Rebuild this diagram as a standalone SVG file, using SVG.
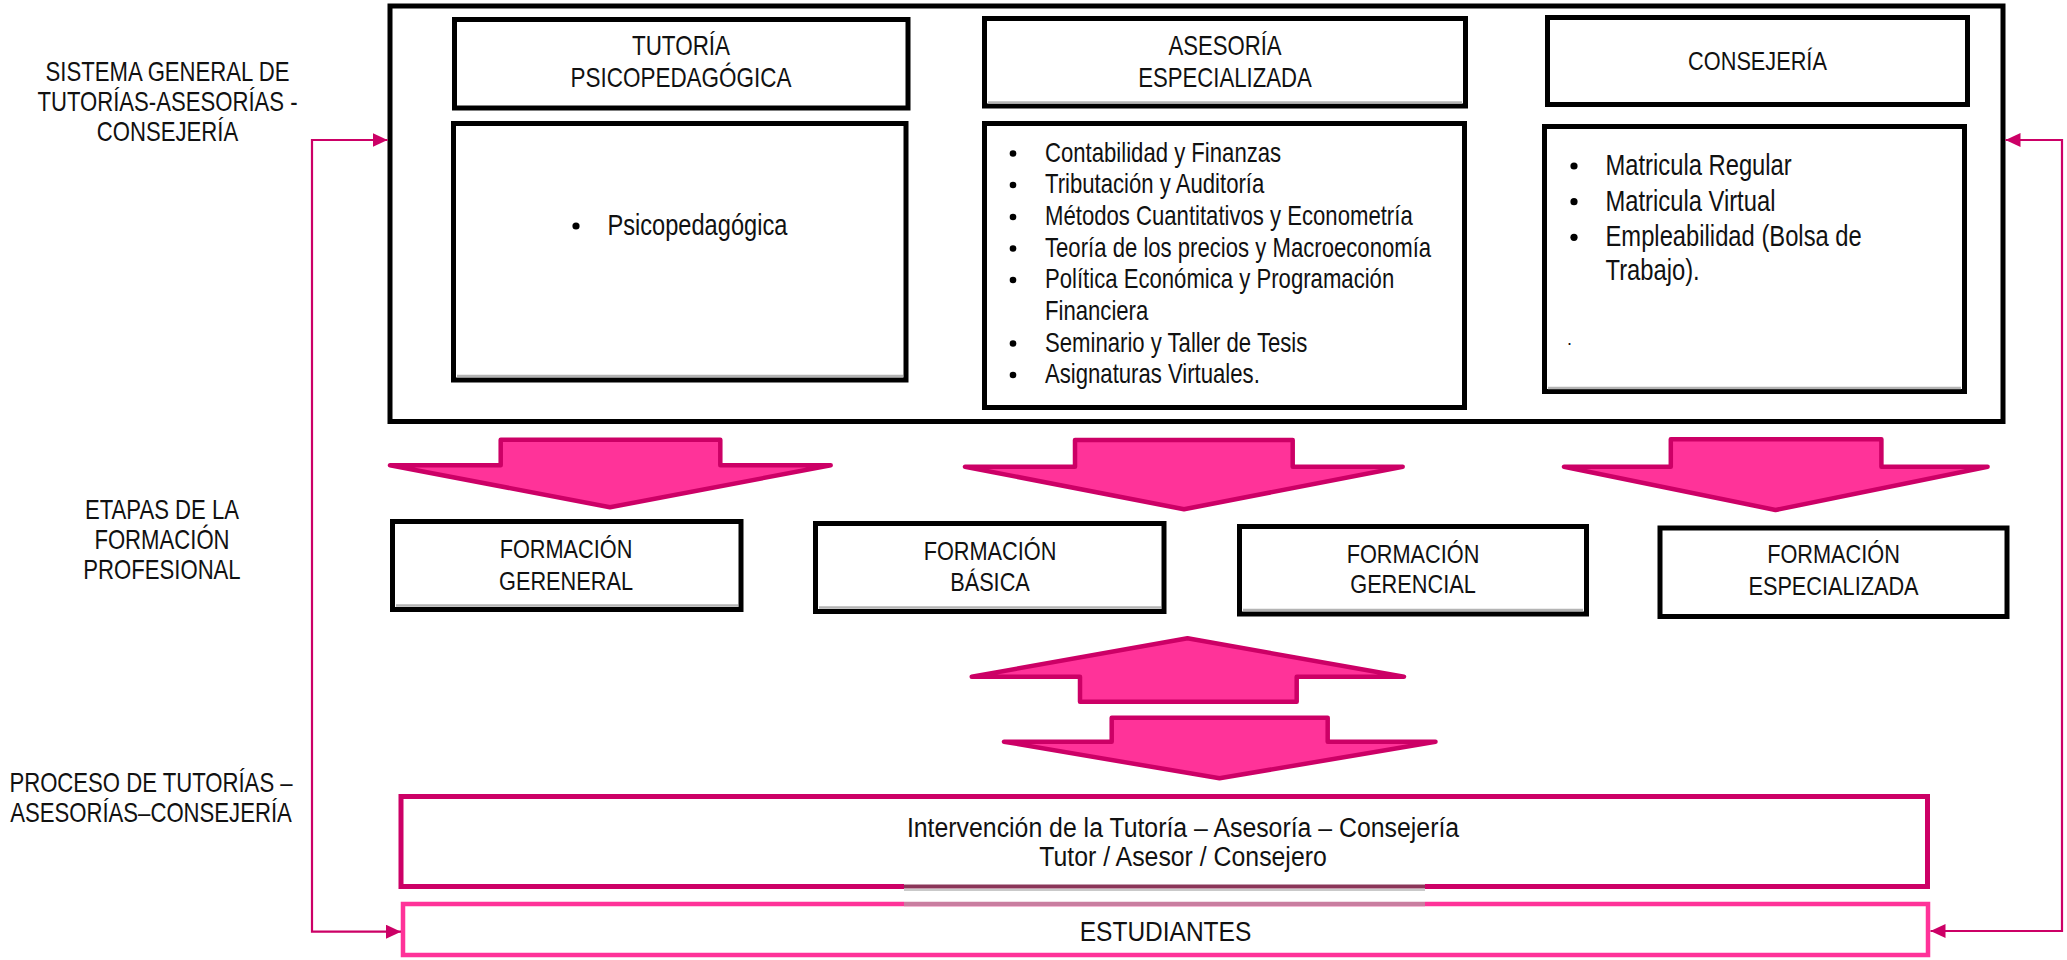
<svg xmlns="http://www.w3.org/2000/svg" width="2067" height="960" viewBox="0 0 2067 960">
<defs>
<style>
text{font-family:'Liberation Sans',Arial,sans-serif;fill:#111;}
.lbl{font-size:27px;text-anchor:middle;}
.hdr{font-size:27px;text-anchor:middle;}
.frm{font-size:26.5px;text-anchor:middle;}
.lst{font-size:27px;}
.lst2{font-size:29px;}
.box{fill:#fff;stroke:#000;stroke-width:5;}
.shade{stroke:#b4b4b4;stroke-width:2.5;fill:none;}
.arr{fill:#FF3399;stroke:#CC0066;stroke-width:4.5;stroke-linejoin:round;}
.pbox{fill:#fff;stroke:#CC0066;stroke-width:5;}
.sbox{fill:#fff;stroke:#FF3399;stroke-width:4.5;}
.conn{fill:none;stroke:#CC0066;stroke-width:2.2;}
.dot{fill:#000;}
</style>
<marker id="ah" viewBox="0 0 15 14" refX="15" refY="7" markerWidth="15" markerHeight="14" markerUnits="userSpaceOnUse" orient="auto-start-reverse">
<path d="M0,0 L15,7 L0,14 z" fill="#CC0066"/>
</marker>
</defs>
<rect width="2067" height="960" fill="#fff"/>

<g id="labels">
<text class="lbl" transform="translate(167.5,80.7) scale(0.82,1)">SISTEMA GENERAL DE</text>
<text class="lbl" transform="translate(167.5,110.7) scale(0.82,1)">TUTORÍAS-ASESORÍAS -</text>
<text class="lbl" transform="translate(167.5,140.7) scale(0.82,1)">CONSEJERÍA</text>
<text class="lbl" transform="translate(162,519.3) scale(0.82,1)">ETAPAS DE LA</text>
<text class="lbl" transform="translate(162,549.3) scale(0.82,1)">FORMACIÓN</text>
<text class="lbl" transform="translate(162,578.7) scale(0.82,1)">PROFESIONAL</text>
<text class="lbl" transform="translate(151,792.3) scale(0.82,1)">PROCESO DE TUTORÍAS –</text>
<text class="lbl" transform="translate(151,821.7) scale(0.82,1)">ASESORÍAS–CONSEJERÍA</text>
</g>

<g id="sistema">
<rect class="box" x="390" y="6" width="1613" height="415.5"/>
</g>

<g id="tutoria-header">
<rect class="box" x="454.5" y="19.5" width="453.5" height="88.5"/>
<text class="hdr" style="font-size:27.4px" transform="translate(681,55) scale(0.82,1)">TUTORÍA</text>
<text class="hdr" style="font-size:27.4px" transform="translate(681,87) scale(0.82,1)">PSICOPEDAGÓGICA</text>
</g>
<g id="tutoria-list">
<rect class="box" x="453.5" y="123.5" width="452.5" height="256.5"/>
<line class="shade" x1="457" y1="376" x2="903" y2="376"/>
<circle class="dot" cx="576" cy="226" r="3.6"/>
<text class="lst" style="font-size:28.8px" transform="translate(607.5,235) scale(0.82,1)">Psicopedagógica</text>
</g>

<g id="asesoria-header">
<rect class="box" x="984.5" y="18.5" width="481" height="87.5"/>
<line class="shade" x1="988" y1="102.5" x2="1462" y2="102.5"/>
<text class="hdr" transform="translate(1225,55) scale(0.82,1)">ASESORÍA</text>
<text class="hdr" transform="translate(1225,87.3) scale(0.82,1)">ESPECIALIZADA</text>
</g>
<g id="asesoria-list">
<rect class="box" x="984.5" y="123.5" width="480" height="284"/>
<circle class="dot" cx="1013" cy="153.5" r="3.3"/>
<circle class="dot" cx="1013" cy="185" r="3.3"/>
<circle class="dot" cx="1013" cy="217" r="3.3"/>
<circle class="dot" cx="1013" cy="248.5" r="3.3"/>
<circle class="dot" cx="1013" cy="280" r="3.3"/>
<circle class="dot" cx="1013" cy="343.5" r="3.3"/>
<circle class="dot" cx="1013" cy="375" r="3.3"/>
<text class="lst" transform="translate(1045,161.7) scale(0.82,1)">Contabilidad y Finanzas</text>
<text class="lst" transform="translate(1045,193) scale(0.82,1)">Tributación y Auditoría</text>
<text class="lst" transform="translate(1045,225) scale(0.82,1)">Métodos Cuantitativos y Econometría</text>
<text class="lst" transform="translate(1045,256.7) scale(0.82,1)">Teoría de los precios y Macroeconomía</text>
<text class="lst" transform="translate(1045,288.3) scale(0.82,1)">Política Económica y Programación</text>
<text class="lst" transform="translate(1045,320) scale(0.82,1)">Financiera</text>
<text class="lst" transform="translate(1045,351.7) scale(0.82,1)">Seminario y Taller de Tesis</text>
<text class="lst" transform="translate(1045,383.3) scale(0.82,1)">Asignaturas Virtuales.</text>
</g>

<g id="consejeria-header">
<rect class="box" x="1547.5" y="17.5" width="420" height="87"/>
<text class="hdr" style="font-size:26.5px" transform="translate(1757.5,70) scale(0.82,1)">CONSEJERÍA</text>
</g>
<g id="consejeria-list">
<rect class="box" x="1544.5" y="126.5" width="420" height="265"/>
<line class="shade" x1="1548" y1="388" x2="1961" y2="388"/>
<circle class="dot" cx="1574" cy="166" r="3.6"/>
<circle class="dot" cx="1574" cy="201.7" r="3.6"/>
<circle class="dot" cx="1574" cy="237.3" r="3.6"/>
<text class="lst2" transform="translate(1605.5,175) scale(0.82,1)">Matricula Regular</text>
<text class="lst2" transform="translate(1605.5,210.7) scale(0.82,1)">Matricula Virtual</text>
<text class="lst2" transform="translate(1605.5,246) scale(0.82,1)">Empleabilidad (Bolsa de</text>
<text class="lst2" transform="translate(1605.5,280) scale(0.82,1)">Trabajo).</text>
<text class="lst" style="font-size:18px" x="1567" y="345">.</text>
</g>

<g id="arrows">
<polygon class="arr" points="500.7,439.7 720.3,439.7 720.3,465.2 830.7,465.2 610,507.3 390,465.2 500.7,465.2"/>
<polygon class="arr" points="1075,440 1292.7,440 1292.7,466.7 1402.7,466.7 1184,509.3 965,466.7 1075,466.7"/>
<polygon class="arr" points="1670.8,439.3 1881.4,439.3 1881.4,466.7 1987.6,466.7 1775.5,510 1564,466.7 1670.8,466.7"/>
<polygon class="arr" points="1187.5,638.3 1404,676.7 1296.7,676.7 1296.7,701.7 1080,701.7 1080,676.7 971.7,676.7"/>
<polygon class="arr" points="1111.7,717.7 1327.7,717.7 1327.7,741.7 1435.5,741.7 1219.5,778.3 1004,741.7 1111.7,741.7"/>
</g>

<g id="formacion-general">
<rect class="box" x="392.5" y="521.5" width="348.5" height="88"/>
<line class="shade" x1="396" y1="605.5" x2="738" y2="605.5"/>
<text class="frm" transform="translate(566,558.3) scale(0.82,1)">FORMACIÓN</text>
<text class="frm" transform="translate(566,590) scale(0.82,1)">GERENERAL</text>
</g>
<g id="formacion-basica">
<rect class="box" x="815.5" y="523.5" width="348.5" height="88"/>
<line class="shade" x1="819" y1="607.5" x2="1161" y2="607.5"/>
<text class="frm" transform="translate(990,560) scale(0.82,1)">FORMACIÓN</text>
<text class="frm" transform="translate(990,590.7) scale(0.82,1)">BÁSICA</text>
</g>
<g id="formacion-gerencial">
<rect class="box" x="1239.5" y="526.5" width="347" height="87.5"/>
<line class="shade" x1="1243" y1="610" x2="1583" y2="610"/>
<text class="frm" transform="translate(1413,562.7) scale(0.82,1)">FORMACIÓN</text>
<text class="frm" transform="translate(1413,593.3) scale(0.82,1)">GERENCIAL</text>
</g>
<g id="formacion-especializada">
<rect class="box" x="1660" y="528" width="347" height="88.5"/>
<text class="frm" transform="translate(1833.5,563.3) scale(0.82,1)">FORMACIÓN</text>
<text class="frm" transform="translate(1833.5,595) scale(0.82,1)">ESPECIALIZADA</text>
</g>

<g id="intervencion">
<rect class="pbox" x="401" y="796.5" width="1526.5" height="90"/>
<text class="frm" style="font-size:27px" transform="translate(1183,836.5) scale(0.92,1)">Intervención de la Tutoría – Asesoría – Consejería</text>
<text class="frm" style="font-size:27px" transform="translate(1183,866) scale(0.92,1)">Tutor / Asesor / Consejero</text>
</g>
<g id="estudiantes">
<rect class="sbox" x="403" y="904" width="1525" height="51"/>
<text class="frm" style="font-size:28.5px" transform="translate(1165.5,940.5) scale(0.86,1)">ESTUDIANTES</text>
</g>
<g id="artifact">
<rect x="904" y="884" width="521" height="22" fill="#fff"/>
<line x1="904" y1="886.5" x2="1425" y2="886.5" stroke="#8a3558" stroke-width="4"/>
<line x1="904" y1="890" x2="1425" y2="890" stroke="#c9c9c9" stroke-width="2"/>
<line x1="904" y1="904" x2="1425" y2="904" stroke="#c97ea0" stroke-width="4.5"/>
</g>

<g id="connectors">
<path class="conn" d="M387.5,140 H312 V931.7 H401" marker-start="url(#ah)" marker-end="url(#ah)"/>
<path class="conn" d="M2005.5,140 H2062 V931 H1930.5" marker-start="url(#ah)" marker-end="url(#ah)"/>
</g>
</svg>
